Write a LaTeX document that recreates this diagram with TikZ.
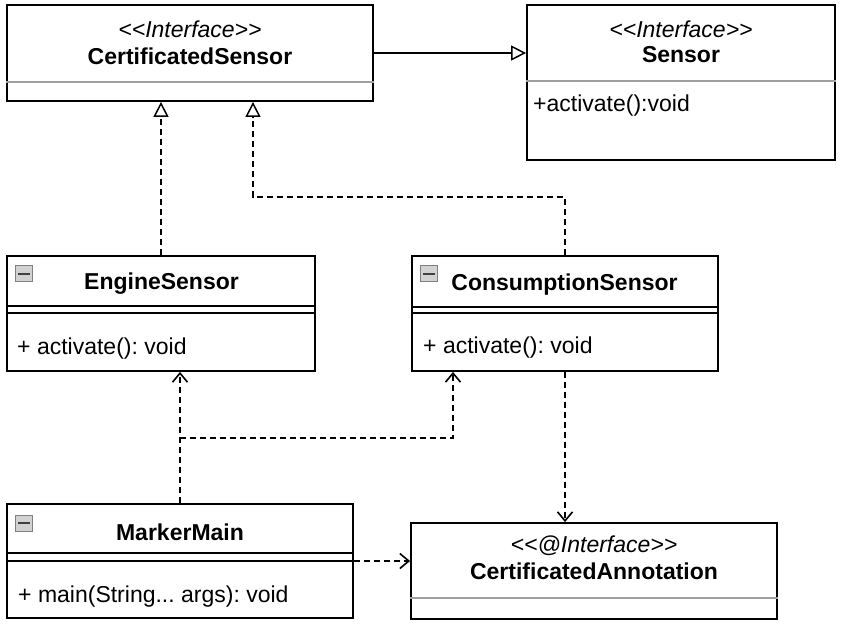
\documentclass[tikz,border=0pt]{standalone}
\usepackage{fontspec}
\setmainfont{Liberation Sans}
\usetikzlibrary{arrows.meta}
\frenchspacing

\begin{document}
\begin{tikzpicture}[x=1pt,y=-1pt,
  box/.style={draw,line width=1.8pt,rectangle,inner sep=0pt},
  stereo/.style={font=\fontsize{23}{27}\selectfont\itshape,inner sep=0pt},
  cname/.style={font=\fontsize{23}{27}\selectfont\bfseries,inner sep=0pt},
  member/.style={font=\fontsize{23}{27}\selectfont,anchor=west,inner sep=0pt},
  graysep/.style={draw=gray!75,line width=1.8pt},
  blacksep/.style={draw,line width=1.5pt},
  icon/.style={draw=gray,fill=gray!35,line width=0.8pt,minimum width=17pt,minimum height=16pt,inner sep=0pt},
  minus/.style={draw=black!75,line width=2pt},
  generalize/.style={draw,line width=1.8pt,-{Triangle[open,length=15pt,width=15pt,line width=1.5pt]}},
  realize/.style={generalize,dash pattern=on 6pt off 4pt},
  dep/.style={draw,line width=1.8pt,dash pattern=on 6pt off 4pt,-{Straight Barb[length=9pt,width=15pt,line width=1.6pt]}}]
\useasboundingbox (0,0) rectangle (842,626);

\node[box,minimum width=366,minimum height=96] (cs) at (190,53) {};
\node[box,minimum width=308,minimum height=155] (sensor) at (681,82.5) {};
\node[box,minimum width=308,minimum height=115] (es) at (161,313.5) {};
\node[box,minimum width=306,minimum height=115] (cons) at (565,313.5) {};
\node[box,minimum width=346,minimum height=114] (mm) at (180,561) {};
\node[box,minimum width=366,minimum height=96] (ca) at (594,571) {};

\node[stereo] (csst) at (190,29) {<{}<Interface>{}>};
\node[cname] (csname) at (190,56) {CertificatedSensor};
\draw[graysep] (cs.west |- 0,82) -- (cs.east |- 0,82);

\node[stereo] (sensorst) at (681,29) {<{}<Interface>{}>};
\node[cname] (sensorname) at (681,55) {Sensor};
\draw[graysep] (sensor.west |- 0,81) -- (sensor.east |- 0,81);
\node[member] (sensoract) at (533,106) {+activate():void};

\node[icon] (esicon) at (24,273.5) {};
\draw[minus] ([xshift=-6pt]esicon.center) -- ([xshift=6pt]esicon.center);
\node[cname] (esname) at (161.5,284) {EngineSensor};
\draw[blacksep] (es.west |- 0,306) -- (es.east |- 0,306);
\draw[blacksep] (es.west |- 0,313) -- (es.east |- 0,313);
\node[member] (esact) at (17,349) {+ activate(): void};

\node[icon] (consicon) at (428.5,273.5) {};
\draw[minus] ([xshift=-6pt]consicon.center) -- ([xshift=6pt]consicon.center);
\node[cname] (consname) at (564.5,285) {ConsumptionSensor};
\draw[blacksep] (cons.west |- 0,307) -- (cons.east |- 0,307);
\draw[blacksep] (cons.west |- 0,313) -- (cons.east |- 0,313);
\node[member] (consact) at (423,348) {+ activate(): void};

\node[icon] (mmicon) at (24,523) {};
\draw[minus] ([xshift=-6pt]mmicon.center) -- ([xshift=6pt]mmicon.center);
\node[cname] (mmname) at (180,532) {MarkerMain};
\draw[blacksep] (mm.west |- 0,553) -- (mm.east |- 0,553);
\draw[blacksep] (mm.west |- 0,561) -- (mm.east |- 0,561);
\node[member] (mmmain) at (18,597) {+ main(String... args): void};

\node[stereo] (cast) at (594,546) {<{}<@Interface>{}>};
\node[cname] (caname) at (594,571) {CertificatedAnnotation};
\draw[graysep] (ca.west |- 0,598) -- (ca.east |- 0,598);

\coordinate (bend1) at (253,197);
\coordinate (bend2) at (453,438);

\path[generalize] (cs.east) -- (cs.east -| sensor.west);
\path[realize] (es.north) -- (es.north |- cs.south);
\path[realize] (cons.north) |- (bend1) -- (bend1 |- cs.south);
\path[dep] (mm.north) -- (mm.north |- es.south);
\path[dep] (mm.north |- bend2) -- (bend2) -- (bend2 |- cons.south);
\path[dep] (cons.south) -- (cons.south |- ca.north);
\path[dep] (mm.east) -- (mm.east -| ca.west);
\end{tikzpicture}
\end{document}
